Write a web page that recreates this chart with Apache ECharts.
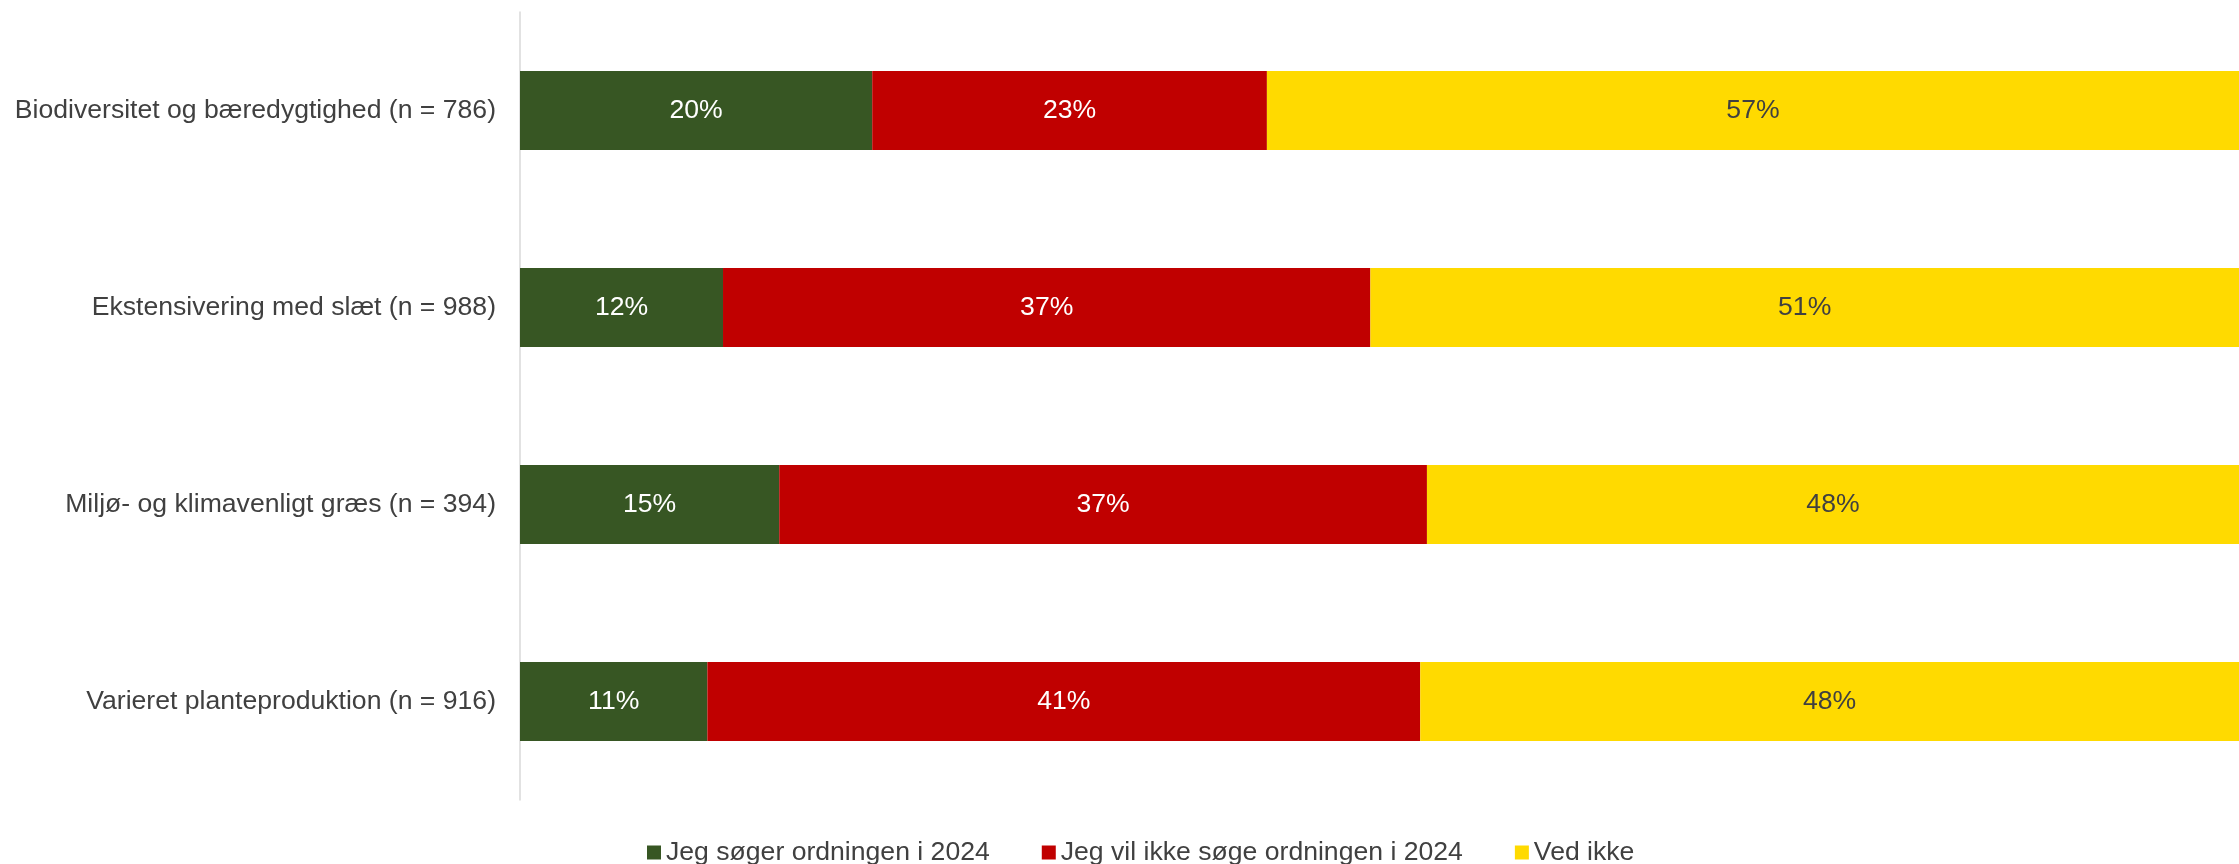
<!DOCTYPE html>
<html>
<head>
<meta charset="utf-8">
<script src="https://cdn.jsdelivr.net/npm/echarts@6/dist/echarts.min.js"></script>
<style>
html,body{margin:0;padding:0;background:#fff;}
#chart{width:2239px;height:864px;}
</style>
</head>
<body>
<div id="chart"></div>
<script>
const categories = [
  'Biodiversitet og bæredygtighed (n = 786)',
  'Ekstensivering med slæt (n = 988)',
  'Miljø- og klimavenligt græs (n = 394)',
  'Varieret planteproduktion (n = 916)'
];
const seriesNames = ['Jeg søger ordningen i 2024', 'Jeg vil ikke søge ordningen i 2024', 'Ved ikke'];
// values (percent)
const soeger = [20.49, 11.81, 15.08, 10.90];
const ikkeSoege = [22.96, 37.66, 37.68, 41.47];
const vedIkke = [56.55, 50.53, 47.24, 47.63];
// data labels as printed on the chart
const soegerLabels = ['20%', '12%', '15%', '11%'];
const ikkeSoegeLabels = ['23%', '37%', '37%', '41%'];
const vedIkkeLabels = ['57%', '51%', '48%', '48%'];

const colors = ['#375623', '#C00000', '#FFDA00'];
const fontFamily = '"Liberation Sans", Arial, sans-serif';
const fs = 26.6;

function mkSeries(name, values, labels, color, labelColor) {
  return {
    name: name,
    type: 'bar',
    stack: 'total',
    barCategoryGap: '60%',
    data: values,
    itemStyle: { color: color },
    label: {
      show: true,
      position: 'inside',
      color: labelColor,
      fontSize: fs,
      fontFamily: fontFamily,
      formatter: p => labels[p.dataIndex]
    },
    emphasis: { disabled: true }
  };
}

const chart = echarts.init(document.getElementById('chart'), null, { renderer: 'canvas' });
chart.setOption({
  animation: false,
  backgroundColor: '#ffffff',
  color: colors,
  grid: { left: 520, right: 0, top: 12, bottom: 64, containLabel: false },
  xAxis: {
    type: 'value', min: 0, max: 100,
    show: false
  },
  yAxis: {
    type: 'category',
    inverse: true,
    data: categories,
    axisLine: { show: true, lineStyle: { color: '#D9D9D9', width: 1.5 } },
    axisTick: { show: false },
    axisLabel: { color: '#404040', fontSize: fs, fontFamily: fontFamily, margin: 24 },
    splitLine: { show: false }
  },
  legend: {
    data: seriesNames,
    left: 642,
    top: 834,
    itemWidth: 14,
    itemHeight: 14,
    itemGap: 52,
    icon: 'rect',
    textStyle: { color: '#404040', fontSize: fs, fontFamily: fontFamily, padding: [0, 0, 0, 0] }
  },
  series: [
    mkSeries(seriesNames[0], soeger, soegerLabels, colors[0], '#ffffff'),
    mkSeries(seriesNames[1], ikkeSoege, ikkeSoegeLabels, colors[1], '#ffffff'),
    mkSeries(seriesNames[2], vedIkke, vedIkkeLabels, colors[2], '#404040')
  ]
});
</script>
</body>
</html>
